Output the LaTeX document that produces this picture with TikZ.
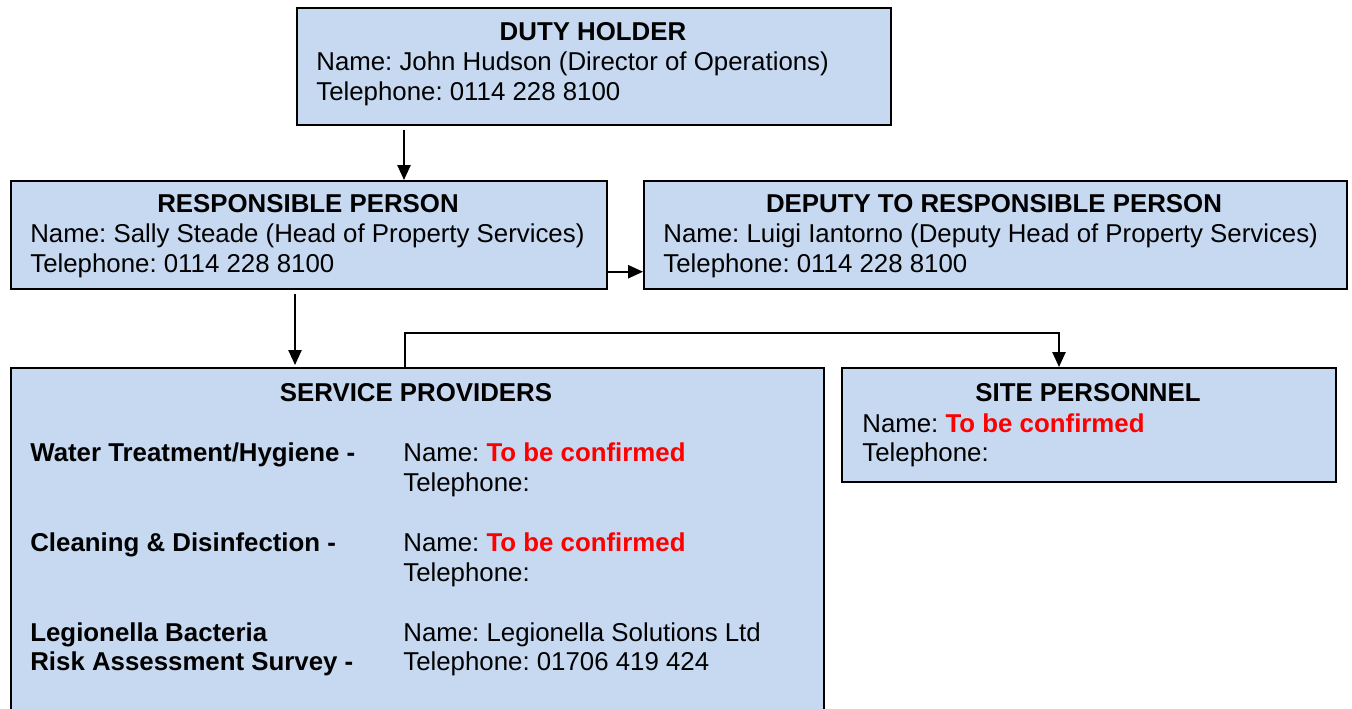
\documentclass[tikz,border=0pt]{standalone}
\usepackage{fontspec}
\setmainfont{Liberation Sans}
\usepackage{tikz}
\usetikzlibrary{arrows.meta,positioning,calc}
\frenchspacing

\definecolor{boxblue}{HTML}{C6D9F1}
\definecolor{tbcred}{HTML}{FF0000}
\newcommand{\chartfont}{\fontsize{14.7pt}{17pt}\selectfont}
\newcommand{\tbc}{\textcolor{tbcred}{\textbf{To be confirmed}}}

\begin{document}
\begin{tikzpicture}[x=0.02cm, y=-0.02cm,
  box/.style={rectangle, draw, line width=1pt, fill=boxblue, anchor=north west, inner sep=0pt},
  title/.style={font=\chartfont\bfseries, anchor=base, inner sep=0pt},
  txt/.style={font=\chartfont, anchor=base west, inner sep=0pt},
  lbl/.style={font=\chartfont\bfseries, anchor=base west, inner sep=0pt},
  arr/.style={-{Triangle[length=8.5pt,width=7.5pt]}, line width=1pt}
]
\useasboundingbox (0,0) rectangle (1352,709);

% Boxes
\node[box, minimum width=11.88cm, minimum height=2.34cm] (duty)   at (296,7)   {};
\node[box, minimum width=11.92cm, minimum height=2.16cm] (resp)   at (10,180)  {};
\node[box, minimum width=14.06cm, minimum height=2.16cm] (deputy) at (643,180) {};
\node[box, minimum width=16.26cm, minimum height=6.9cm]  (serv)   at (10,367)  {};
\node[box, minimum width=9.88cm,  minimum height=2.28cm] (site)   at (841,367) {};

% Duty holder
\node[title] (dutyT)  at (593,41)  {DUTY HOLDER};
\node[txt]   (dutyN)  at (316,71)  {Name: John Hudson (Director of Operations)};
\node[txt]   (dutyP)  at (316,101) {Telephone: 0114 228 8100};

% Responsible person
\node[title] (respT)  at (308,213) {RESPONSIBLE PERSON};
\node[txt]   (respN)  at (30,243)  {Name: Sally Steade (Head of Property Services)};
\node[txt]   (respP)  at (30,273)  {Telephone: 0114 228 8100};

% Deputy
\node[title] (depT)   at (994,213) {DEPUTY TO RESPONSIBLE PERSON};
\node[txt]   (depN)   at (663,243) {Name: Luigi Iantorno (Deputy Head of Property Services)};
\node[txt]   (depP)   at (663,273) {Telephone: 0114 228 8100};

% Service providers
\node[title] (servT)  at (416,401) {SERVICE PROVIDERS};
\node[lbl]   (waterL) at (30,461)  {Water Treatment/Hygiene -};
\node[txt]   (waterN) at (403,461) {Name: \tbc};
\node[txt]   (waterP) at (403,491) {Telephone:};
\node[lbl]   (cleanL) at (30,551)  {Cleaning \& Disinfection -};
\node[txt]   (cleanN) at (403,551) {Name: \tbc};
\node[txt]   (cleanP) at (403,581) {Telephone:};
\node[lbl]   (legL1)  at (30,641)  {Legionella Bacteria};
\node[lbl]   (legL2)  at (30,670)  {Risk Assessment Survey -};
\node[txt]   (legN)   at (403,641) {Name: Legionella Solutions Ltd};
\node[txt]   (legP)   at (403,670) {Telephone: 01706 419 424};

% Site personnel
\node[title] (siteT)  at (1088,401) {SITE PERSONNEL};
\node[txt]   (siteN)  at (862,432)  {Name: \tbc};
\node[txt]   (siteP)  at (862,461)  {Telephone:};

% Arrows
\draw[arr] ($(duty.south west)+(108,4)$) -- ($(resp.north west)+(394,0)$);
\draw[arr] ($(resp.south west)+(285,4)$) -- ($(serv.north west)+(285,-2)$);
\draw[arr] ($(resp.south east)+(0,-18)$) -- ($(deputy.south west)+(0,-18)$);
\draw[arr] ($(serv.north west)+(395,0)$) -- ++(0,-34) -| ($(site.north west)+(218,0)$);

\end{tikzpicture}
\end{document}
